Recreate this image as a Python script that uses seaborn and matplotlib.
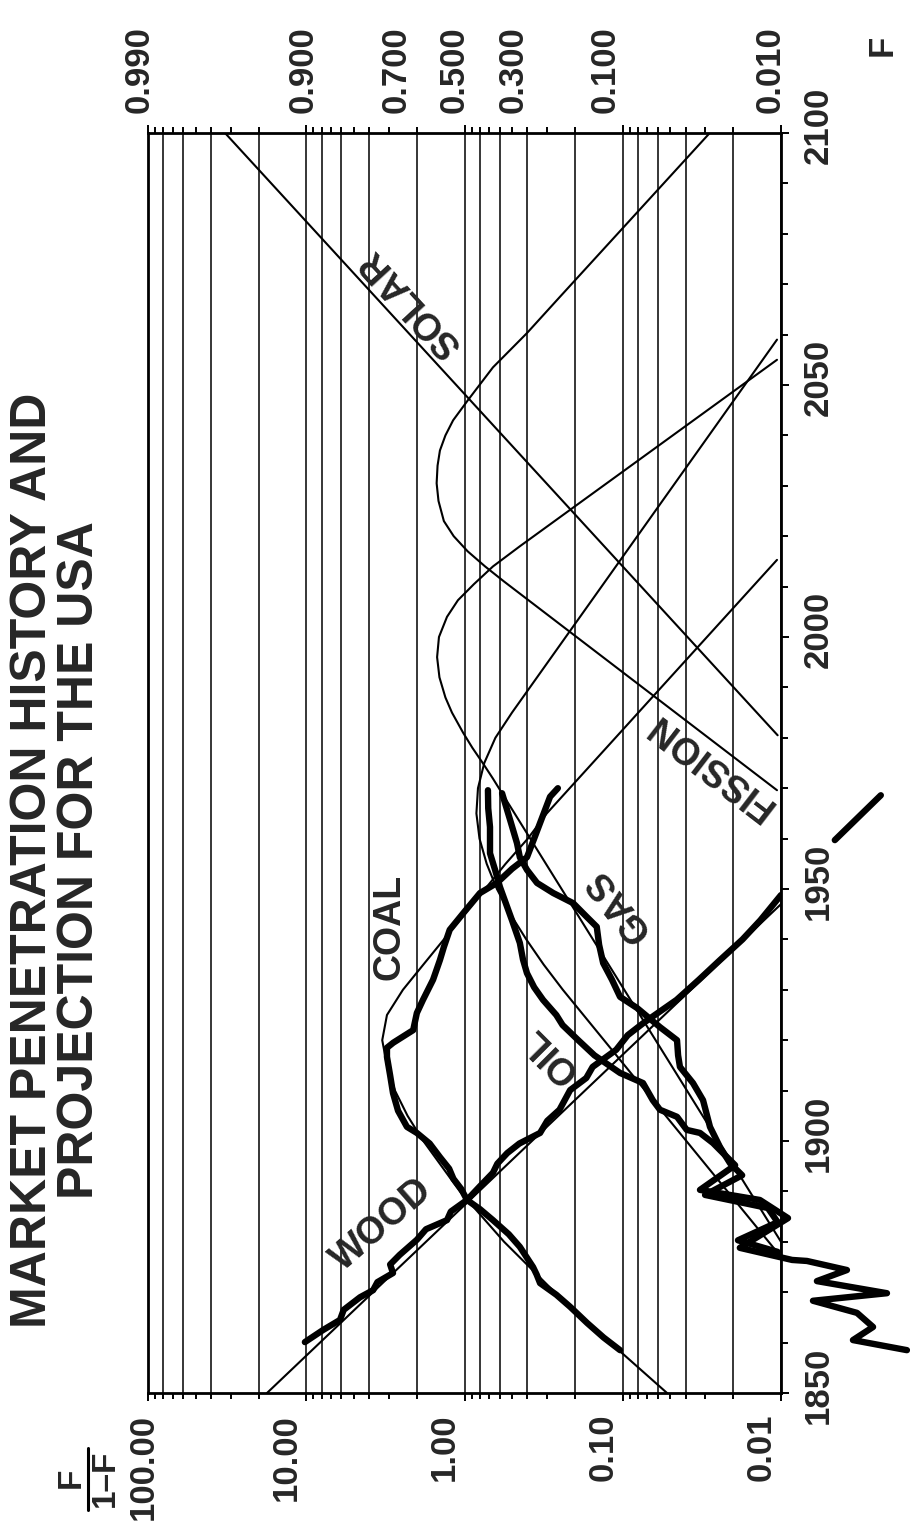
import matplotlib
matplotlib.use("Agg")
import matplotlib.pyplot as plt
import matplotlib.transforms as mtransforms
from matplotlib.lines import Line2D
from matplotlib.ticker import LogLocator, NullFormatter, MultipleLocator
import numpy as np
import pandas as pd
import seaborn as sns

sns.set_theme(style="white")
plt.rcParams["font.family"] = ["Liberation Sans", "DejaVu Sans"]
plt.rcParams["font.weight"] = "bold"

# ---------------- data: market share as F/(1-F) by year ----------------
# historical series (thick)
wood_years = [1860.1, 1862.5, 1864.5, 1866.5, 1869.0, 1870.4, 1872.0, 1873.8, 1875.5, 1877.4,
              1880.4, 1882.5, 1884.3, 1886.0, 1888.3, 1891.0, 1893.7, 1895.5, 1897.6, 1899.5,
              1901.6, 1904.0, 1906.2, 1910.1, 1912.5, 1914.7, 1918.1, 1921.0, 1923.4, 1928.0,
              1932.0, 1935.9, 1940.0, 1943.8, 1948.8]
wood_ratio = [10.2, 7.83, 6.12, 5.80, 4.57, 3.78, 3.55, 2.83, 2.95, 2.57,
              2.00, 1.75, 1.29, 1.22, 0.964, 0.80, 0.661, 0.62, 0.537, 0.45,
              0.333, 0.30, 0.251, 0.215, 0.17, 0.155, 0.110, 0.093, 0.0741, 0.0457,
              0.033, 0.0243, 0.0175, 0.0135, 0.0100]
wood_tail_years = [1959.7, 1968.6]
wood_tail_ratio = [0.00457, 0.00234]

coal_years = [1858.5, 1861.0, 1863.9, 1865.5, 1867.1, 1869.5, 1871.8, 1873.5, 1875.0, 1879.0,
              1881.5, 1884.3, 1886.5, 1888.3, 1890.5, 1892.5, 1894.5, 1896.8, 1899.5, 1901.6,
              1902.8, 1906.0, 1909.5, 1913.0, 1916.7, 1918.5, 1919.5, 1922.0, 1925.4, 1928.0,
              1932.0, 1935.9, 1938.5, 1941.9, 1945.5, 1949.2, 1951.2, 1954.0, 1956.3, 1960.0,
              1963.1, 1968.3, 1970.0]
coal_ratio = [0.104, 0.132, 0.168, 0.19, 0.215, 0.263, 0.333, 0.35, 0.369, 0.447,
              0.525, 0.661, 0.80, 0.964, 1.05, 1.175, 1.25, 1.43, 1.66, 2.00,
              2.31, 2.63, 2.83, 2.95, 3.09, 3.09, 2.82, 2.11, 2.00, 1.83,
              1.58, 1.43, 1.35, 1.24, 1.00, 0.798, 0.624, 0.501, 0.403, 0.363,
              0.333, 0.288, 0.257]

oil_years = [1969.6, 1966.0, 1962.3, 1957.1, 1953.8, 1950.4, 1946.4, 1943.8, 1939.3, 1936.0,
             1933.3, 1930.5, 1928.0, 1925.0, 1923.0, 1920.0, 1917.0, 1913.5, 1911.5, 1908.1,
             1906.2, 1904.8, 1902.2, 1901.6, 1899.6, 1898.2, 1895.2, 1890.3, 1888.3, 1884.7,
             1878.8, 1876.4, 1876.2, 1874.4, 1872.2, 1869.8, 1868.3, 1865.9, 1863.1, 1860.5,
             1858.5]
oil_ratio = [0.711, 0.708, 0.69, 0.69, 0.641, 0.597, 0.537, 0.501, 0.447, 0.427,
             0.403, 0.363, 0.319, 0.263, 0.240, 0.191, 0.151, 0.104, 0.0745, 0.0646,
             0.0582, 0.0454, 0.0394, 0.0325, 0.0269, 0.0243, 0.0195, 0.0325, 0.0136, 0.00903,
             0.0182, 0.00851, 0.00686, 0.00383, 0.00593, 0.00214, 0.00628, 0.00331, 0.00262, 0.00351,
             0.0016]

gas_years = [1969.0, 1963.7, 1959.1, 1956.3, 1953.8, 1951.2, 1949.2, 1947.2, 1944.4, 1942.5,
             1938.9, 1935.3, 1932.0, 1928.6, 1926.4, 1922.6, 1920.0, 1917.0, 1914.7, 1911.5,
             1908.1, 1902.8, 1898.8, 1895.6, 1893.2, 1889.3, 1886.7, 1883.9, 1880.3, 1878.0]
gas_ratio = [0.579, 0.515, 0.466, 0.447, 0.403, 0.348, 0.275, 0.206, 0.168, 0.146,
             0.141, 0.133, 0.117, 0.104, 0.0813, 0.0582, 0.0454, 0.0447, 0.0435, 0.036,
             0.0311, 0.0281, 0.0243, 0.021, 0.0176, 0.0302, 0.0121, 0.0105, 0.0187, 0.0105]

# substitution-model curves (thin)
wood_fit_years = [1850, 1947]
wood_fit_ratio = [17.7, 0.01]

coal_fit_years = [1850, 1860, 1870, 1880, 1890, 1900, 1905, 1910, 1915, 1920,
                  1925, 1930, 1935, 1940, 1945, 1950, 1955, 1960, 1965, 2015.3]
coal_fit_ratio = [0.0525, 0.120, 0.269, 0.562, 1.07, 1.82, 2.29, 2.75, 3.09, 3.31,
                  3.09, 2.45, 1.82, 1.35, 1.00, 0.741, 0.550, 0.398, 0.302, 0.0106]

oil_fit_years = [1877, 1930, 1935, 1940, 1945, 1950, 1955, 1960, 1965, 1970,
                 1975, 1980, 1985, 2059]
oil_fit_ratio = [0.01, 0.239, 0.316, 0.407, 0.513, 0.624, 0.724, 0.804, 0.841, 0.822,
                 0.750, 0.638, 0.501, 0.0106]

gas_fit_years = [1880, 1972, 1975, 1978, 1981, 1985, 1988, 1992, 1996, 2000,
                 2004, 2007.3, 2010.5, 2014, 2018, 2055]
gas_fit_ratio = [0.01, 0.664, 0.767, 0.891, 1.02, 1.20, 1.32, 1.44, 1.49, 1.45,
                 1.29, 1.10, 0.871, 0.661, 0.447, 0.0106]

fission_fit_years = [1969.6, 2011, 2014, 2017, 2020, 2023, 2027, 2030.5, 2034, 2037,
                     2040, 2043, 2047, 2053.5, 2060.3, 2067.4, 2100]
fission_fit_ratio = [0.0106, 0.562, 0.741, 0.955, 1.17, 1.35, 1.46, 1.50, 1.48, 1.43,
                     1.32, 1.18, 0.951, 0.661, 0.403, 0.251, 0.0282]

solar_fit_years = [1980.5, 2100]
solar_fit_ratio = [0.0105, 32.6]

# curve labels
label_text = ["WOOD", "COAL", "OIL", "GAS", "FISSION", "SOLAR"]
label_year = [1883.3, 1942.5, 1917.1, 1946.8, 1974.6, 2066.3]
label_ratio = [3.32, 2.96, 0.288, 0.107, 0.0281, 2.21]
label_angle = [41, 90, 135, 128, 142.5, 132.5]

# axes annotation
grid_ratios = [100, 80, 60, 40, 20, 10, 8, 6, 4, 2, 1, 0.8, 0.6, 0.4, 0.2,
               0.1, 0.08, 0.06, 0.04, 0.02, 0.01]
ratio_ticks = [100, 10, 1, 0.1, 0.01]
ratio_tick_labels = ["100.00", "10.00", "1.00", "0.10", "0.01"]
share_ticks = [0.99, 0.9, 0.7, 0.5, 0.3, 0.1, 0.01]
share_tick_labels = ["0.990", "0.900", "0.700", "0.500", "0.300", "0.100", "0.010"]
year_ticks = [1850, 1900, 1950, 2000, 2050, 2100]
title_lines = ["MARKET PENETRATION HISTORY AND", "PROJECTION FOR THE USA"]

# ---------------- figure ----------------
W, H = 910, 1532
DPI = 100
fig = plt.figure(figsize=(W / DPI, H / DPI), dpi=DPI)
fig.patch.set_facecolor("white")
L, R, T, B = 148, 781, 133, 1393
ax = fig.add_axes([L / W, 1 - B / H, (R - L) / W, (B - T) / H])
ax.set_facecolor("white")
ax.set_xscale("log")

for g in grid_ratios:
    ax.axvline(g, color="black", lw=1.1, zorder=1)


def draw(years, ratios, lw, clip=True, z=3):
    df = pd.DataFrame({"year": years, "ratio": ratios})
    sns.lineplot(data=df, x="ratio", y="year", sort=False, estimator=None,
                 color="black", lw=lw, ax=ax, clip_on=clip, zorder=z,
                 solid_joinstyle="round", solid_capstyle="round")


THIN, THICK = 1.5, 4.6
draw(wood_fit_years, wood_fit_ratio, THIN)
draw(coal_fit_years, coal_fit_ratio, THIN)
draw(oil_fit_years, oil_fit_ratio, THIN)
draw(gas_fit_years, gas_fit_ratio, THIN)
draw(fission_fit_years, fission_fit_ratio, THIN)
draw(solar_fit_years, solar_fit_ratio, THIN)

draw(wood_years, wood_ratio, THICK, z=4)
draw(wood_tail_years, wood_tail_ratio, THICK, clip=False, z=4)
draw(coal_years, coal_ratio, THICK, z=4)
draw(gas_years, gas_ratio, THICK, z=4)
draw(oil_years, oil_ratio, THICK, clip=False, z=4)

ax.set_xlim(100, 0.01)
ax.set_ylim(1850, 2100)
ax.set_xlabel("")
ax.set_ylabel("")

for s in ax.spines.values():
    s.set_visible(True)
    s.set_color("black")
    s.set_linewidth(2.0)

# bottom: F/(1-F) scale
ax.set_xticks(ratio_ticks)
ax.set_xticklabels(ratio_tick_labels, rotation=90, fontsize=25, fontweight="bold")
ax.xaxis.set_minor_locator(LogLocator(base=10, subs=np.arange(2, 10)))
ax.xaxis.set_minor_formatter(NullFormatter())
ax.tick_params(axis="x", which="both", direction="out", top=True, bottom=True,
               labeltop=False, color="black", width=1.4)
ax.tick_params(axis="x", which="major", length=6, pad=9)
ax.tick_params(axis="x", which="minor", length=4)
for i, lab in enumerate(ax.get_xticklabels()):
    dx = -5 if i == 0 else -20
    lab.set_transform(lab.get_transform() +
                      mtransforms.ScaledTranslation(dx / DPI, 0, fig.dpi_scale_trans))

# right: years
ax.yaxis.tick_right()
ax.set_yticks(year_ticks)
ax.set_yticklabels([str(y) for y in year_ticks], rotation=90, va="center",
                   fontsize=25, fontweight="bold")
ax.yaxis.set_minor_locator(MultipleLocator(10))
ax.tick_params(axis="y", which="both", direction="out", left=False, right=True,
               color="black", width=1.4)
ax.tick_params(axis="y", which="major", length=6, pad=9)
ax.tick_params(axis="y", which="minor", length=5)
for lab in ax.get_yticklabels():
    lab.set_transform(lab.get_transform() +
                      mtransforms.ScaledTranslation(0, 8 / DPI, fig.dpi_scale_trans))

# top: F scale
top_tr = ax.get_xaxis_transform() + mtransforms.ScaledTranslation(-10 / DPI, 20 / DPI, fig.dpi_scale_trans)
for f, lab in zip(share_ticks, share_tick_labels):
    ax.text(f / (1 - f), 1.0, lab, transform=top_tr, rotation=90, ha="center",
            va="bottom", fontsize=25, fontweight="bold", clip_on=False)
fig.text(882 / W, 1 - 45 / H, "F", rotation=90, ha="center", va="center",
         fontsize=25, fontweight="bold")

# F/(1-F) caption
fig.text(71 / W, 1 - 1478 / H, "F", rotation=90, ha="center", va="center",
         fontsize=24, fontweight="bold")
fig.text(105 / W, 1 - 1478 / H, "1\u2013F", rotation=90, ha="center", va="center",
         fontsize=24, fontweight="bold")
fig.add_artist(Line2D([88 / W, 88 / W], [1 - 1448 / H, 1 - 1510 / H],
                      transform=fig.transFigure, color="black", lw=2.2))

# curve labels
for txt, yr, rt, ang in zip(label_text, label_year, label_ratio, label_angle):
    ax.text(rt, yr, txt, rotation=ang, rotation_mode="anchor", ha="center",
            va="center", fontsize=27, fontweight="bold", zorder=6)

# title
fig.text(33 / W, 1 - 860 / H, title_lines[0], rotation=90, ha="center", va="center",
         fontsize=36, fontweight="bold")
fig.text(80 / W, 1 - 860 / H, title_lines[1], rotation=90, ha="center", va="center",
         fontsize=36, fontweight="bold")

fig.savefig("out.png", dpi=DPI, facecolor="white")
